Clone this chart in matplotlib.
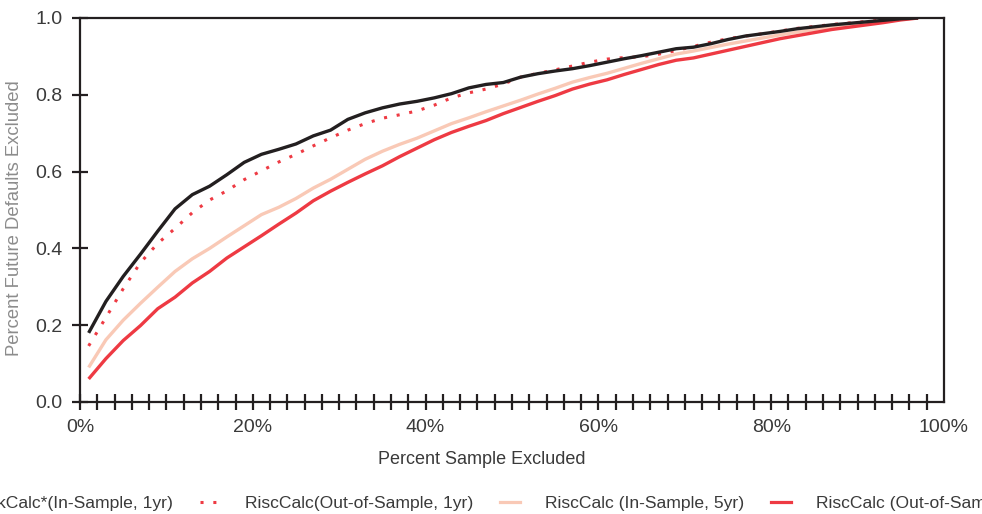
import numpy as np
import matplotlib
matplotlib.use('Agg')
import matplotlib.pyplot as plt
from matplotlib.lines import Line2D

plt.rcParams['font.family'] = ['Liberation Sans', 'DejaVu Sans']

# percent of sample excluded
pct = [1, 3, 5, 7, 9, 11, 13, 15, 17, 19, 21, 23, 25, 27, 29, 31, 33, 35, 37,
       39, 41, 43, 45, 47, 49, 51, 53, 55, 57, 59, 61, 63, 65, 67, 69, 71, 73,
       75, 77, 79, 81, 83, 85, 87, 89, 91, 93, 95, 97]

in_1yr = [0.180, 0.262, 0.327, 0.385, 0.445, 0.503, 0.540, 0.562, 0.592, 0.624,
          0.645, 0.658, 0.672, 0.693, 0.708, 0.736, 0.753, 0.766, 0.776, 0.783,
          0.792, 0.803, 0.818, 0.827, 0.832, 0.846, 0.855, 0.862, 0.868, 0.876,
          0.885, 0.894, 0.902, 0.911, 0.920, 0.924, 0.933, 0.944, 0.953, 0.959,
          0.965, 0.972, 0.977, 0.982, 0.986, 0.990, 0.994, 0.998, 1.0]

out_1yr = [0.146, 0.220, 0.295, 0.363, 0.413, 0.452, 0.493, 0.526, 0.550, 0.579,
           0.602, 0.625, 0.645, 0.667, 0.688, 0.708, 0.725, 0.739, 0.748, 0.758,
           0.773, 0.792, 0.805, 0.815, 0.828, 0.846, 0.856, 0.865, 0.875, 0.885,
           0.893, 0.897, 0.899, 0.906, 0.915, 0.926, 0.937, 0.946, 0.953, 0.959,
           0.966, 0.973, 0.978, 0.983, 0.987, 0.991, 0.995, 0.998, 1.0]

in_5yr = [0.090, 0.162, 0.213, 0.257, 0.299, 0.340, 0.373, 0.400, 0.430, 0.459,
          0.488, 0.507, 0.530, 0.557, 0.580, 0.606, 0.632, 0.653, 0.671, 0.687,
          0.706, 0.725, 0.740, 0.756, 0.771, 0.786, 0.802, 0.817, 0.833, 0.845,
          0.856, 0.869, 0.882, 0.894, 0.906, 0.914, 0.923, 0.932, 0.940, 0.948,
          0.956, 0.963, 0.970, 0.976, 0.982, 0.988, 0.993, 0.997, 1.0]

out_5yr = [0.060, 0.113, 0.160, 0.199, 0.243, 0.273, 0.310, 0.340, 0.375, 0.404,
           0.433, 0.463, 0.492, 0.524, 0.549, 0.572, 0.594, 0.615, 0.639, 0.661,
           0.683, 0.702, 0.718, 0.733, 0.751, 0.767, 0.783, 0.798, 0.815, 0.828,
           0.839, 0.853, 0.866, 0.879, 0.890, 0.896, 0.906, 0.916, 0.926, 0.936,
           0.946, 0.954, 0.962, 0.970, 0.976, 0.982, 0.988, 0.995, 1.0]

labels = ['RiskCalc*(In-Sample, 1yr)', 'RiscCalc(Out-of-Sample, 1yr)',
          'RiscCalc (In-Sample, 5yr)', 'RiscCalc (Out-of-Sample, 5yr)']

black = '#231f20'
red = '#ee3a43'
peach = '#f9c9b6'
txt = '#3a3a3a'
fs = 12.6

fig = plt.figure(figsize=(9.82, 5.14), dpi=100)
ax = fig.add_axes([80 / 982, 1 - 402 / 514, 864 / 982, 384 / 514])

ax.plot(pct, in_5yr, color=peach, lw=2.4, solid_capstyle='butt')
ax.plot(pct, out_5yr, color=red, lw=2.4, solid_capstyle='butt')
ax.plot(pct, out_1yr, color=red, lw=2.2, linestyle=(0, (1, 3.2)))
ax.plot(pct, in_1yr, color=black, lw=2.4, solid_capstyle='butt')

ax.set_xlim(0, 100)
ax.set_ylim(0, 1.0)
for s in ax.spines.values():
    s.set_color(black)
    s.set_linewidth(1.6)

ax.set_xticks(np.arange(0, 101, 20))
ax.set_xticklabels(['{}%'.format(v) for v in range(0, 101, 20)])
ax.set_xticks(np.arange(2, 100, 2), minor=True)
ax.set_yticks(np.arange(0, 1.01, 0.2))
ax.set_yticklabels(['{:.1f}'.format(v) for v in np.arange(0, 1.01, 0.2)])
ax.tick_params(axis='both', which='both', direction='inout', length=12,
               width=1.6, color=black, labelsize=14, labelcolor=txt)
ax.tick_params(axis='x', pad=6)
ax.tick_params(axis='y', pad=6.5)
ax.xaxis.get_major_ticks()[-1].tick1line.set_visible(False)

fig.text(482 / 982, 1 - 459 / 514, 'Percent Sample Excluded', fontsize=13,
         color=txt, ha='center', va='center')
fig.text(15 / 982, 1 - 218 / 514, 'Percent Future Defaults Excluded',
         fontsize=13.3, color='#8c8c8c', ha='center', va='center',
         rotation=90)

handles = [Line2D([], [], color=black, lw=2.3),
           Line2D([], [], color=red, lw=2.2, linestyle=(0, (1, 3.2))),
           Line2D([], [], color=peach, lw=2.3),
           Line2D([], [], color=red, lw=2.3)]
fig.legend(handles, labels, ncol=4, loc='center left',
           bbox_to_anchor=(-73 / 982, 1 - 503 / 514), frameon=False,
           fontsize=fs, borderpad=0, borderaxespad=0,
           handlelength=1.14, handletextpad=1.43, columnspacing=1.54,
           labelcolor=txt)

fig.savefig('out.png', dpi=100)
